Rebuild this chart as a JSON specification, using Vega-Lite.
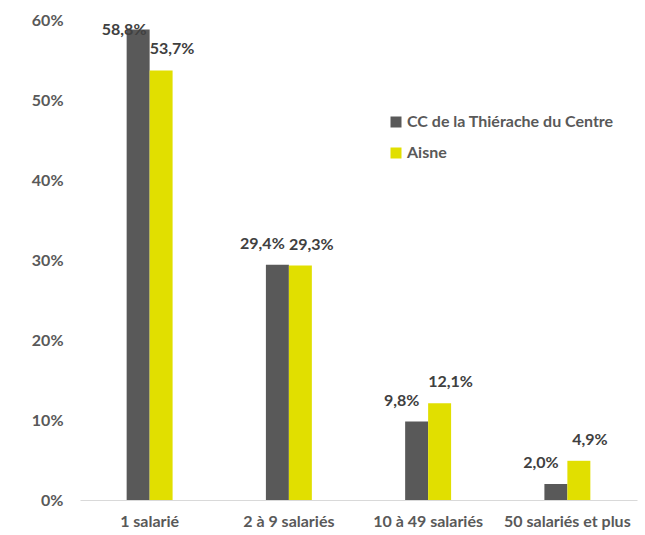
{
  "$schema": "https://vega.github.io/schema/vega-lite/v6.json",
  "width": 557,
  "height": 480,
  "autosize": {"type": "none"},
  "padding": {"left": 80, "top": 20, "right": 8, "bottom": 35},
  "background": "white",
  "config": {
    "view": {"stroke": null},
    "font": "Lato",
    "locale": {"number": {"decimal": ",", "thousands": " ", "grouping": [3], "currency": ["", " €"]}}
  },
  "data": {
    "values": [
      {"categorie": "1 salarié", "territoire": "CC de la Thiérache du Centre", "part": 0.588},
      {"categorie": "1 salarié", "territoire": "Aisne", "part": 0.537},
      {"categorie": "2 à 9 salariés", "territoire": "CC de la Thiérache du Centre", "part": 0.294},
      {"categorie": "2 à 9 salariés", "territoire": "Aisne", "part": 0.293},
      {"categorie": "10 à 49 salariés", "territoire": "CC de la Thiérache du Centre", "part": 0.098},
      {"categorie": "10 à 49 salariés", "territoire": "Aisne", "part": 0.121},
      {"categorie": "50 salariés et plus", "territoire": "CC de la Thiérache du Centre", "part": 0.020},
      {"categorie": "50 salariés et plus", "territoire": "Aisne", "part": 0.049}
    ]
  },
  "encoding": {
    "x": {
      "field": "categorie", "type": "nominal",
      "sort": ["1 salarié", "2 à 9 salariés", "10 à 49 salariés", "50 salariés et plus"],
      "scale": {"paddingInner": 0.67, "paddingOuter": 0.335},
      "axis": {
        "title": null, "labelAngle": 0, "ticks": false, "domainColor": "#d9d9d9", "domainWidth": 1,
        "labelPadding": 13, "labelFontSize": 16, "labelFontWeight": "bold", "labelColor": "#595959", "labelFont": "Lato", "labelLimit": 0
      }
    },
    "xOffset": {
      "field": "territoire", "type": "nominal",
      "sort": ["CC de la Thiérache du Centre", "Aisne"]
    },
    "y": {
      "field": "part", "type": "quantitative",
      "scale": {"domain": [0, 0.6]},
      "axis": {
        "title": null, "format": ".0%", "values": [0, 0.1, 0.2, 0.3, 0.4, 0.5, 0.6],
        "grid": false, "domain": false, "ticks": false, "labelPadding": 17,
        "labelFontSize": 16, "labelFontWeight": "bold", "labelColor": "#595959", "labelFont": "Lato"
      }
    }
  },
  "layer": [
    {
      "mark": {"type": "bar"},
      "encoding": {
        "color": {
          "field": "territoire", "type": "nominal",
          "scale": {"domain": ["CC de la Thiérache du Centre", "Aisne"], "range": ["#595959", "#E1DF00"]},
          "legend": {
            "title": null, "orient": "none", "legendX": 308, "legendY": 94,
            "symbolType": "square", "symbolSize": 121, "symbolStrokeWidth": 0,
            "labelFontSize": 16, "labelFontWeight": "bold", "labelColor": "#595959", "labelFont": "Lato",
            "rowPadding": 15, "labelOffset": 3, "padding": 0, "labelLimit": 0
          }
        }
      }
    },
    {
      "transform": [{"filter": "datum.territoire === 'CC de la Thiérache du Centre' && datum.part < 0.55"}],
      "mark": {"type": "text", "dx": -15, "dy": -16, "baseline": "alphabetic", "align": "center",
               "fontSize": 16, "fontWeight": "bold", "color": "#404040", "font": "Lato"},
      "encoding": {"text": {"field": "part", "type": "quantitative", "format": ".1%"}}
    },
    {
      "transform": [{"filter": "datum.territoire === 'CC de la Thiérache du Centre' && datum.part >= 0.55"}],
      "mark": {"type": "text", "dx": -14, "dy": 5, "baseline": "alphabetic", "align": "center",
               "fontSize": 16, "fontWeight": "bold", "color": "#404040", "font": "Lato"},
      "encoding": {"text": {"field": "part", "type": "quantitative", "format": ".1%"}}
    },
    {
      "transform": [{"filter": "datum.territoire === 'Aisne'"}],
      "mark": {"type": "text", "dx": 11, "dy": -16, "baseline": "alphabetic", "align": "center",
               "fontSize": 16, "fontWeight": "bold", "color": "#404040", "font": "Lato"},
      "encoding": {"text": {"field": "part", "type": "quantitative", "format": ".1%"}}
    }
  ]
}
